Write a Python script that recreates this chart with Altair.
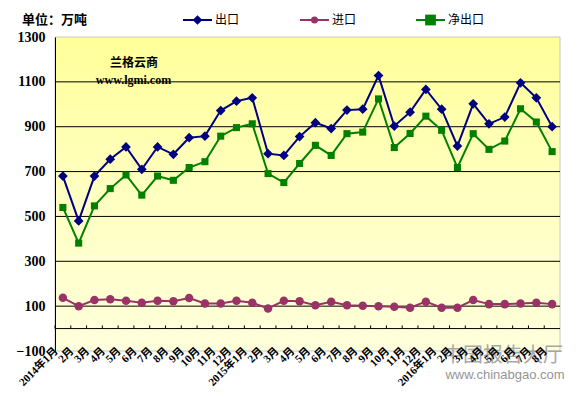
import altair as alt
import pandas as pd

months = (["2014年1月"] + [f"{m}月" for m in range(2, 13)]
          + ["2015年1月"] + [f"{m}月" for m in range(2, 13)]
          + ["2016年1月"] + [f"{m}月" for m in range(2, 9)])
# unique keys for the category axis (labels repeat across years)
keys = [f"{i:02d}" for i in range(len(months))]

series = ["出口", "进口", "净出口"]
colors = ["#000080", "#993366", "#008000"]
shapes = ["diamond", "circle", "square"]
sizes = [95, 50, 115]

export = [680, 480, 680, 755, 810, 710, 810, 777, 851, 858, 972, 1014, 1029, 780, 772, 856,
          918, 892, 974, 978, 1128, 903, 965, 1066, 978, 814, 1002, 913, 943, 1096, 1029, 900]
imports = [137, 100, 127, 131, 124, 115, 124, 122, 136, 112, 112, 124, 115, 90, 124, 122,
           104, 120, 104, 102, 100, 97, 93, 120, 93, 93, 127, 109, 109, 112, 115, 109]
net = [540, 381, 547, 624, 685, 595, 680, 661, 718, 744, 858, 896, 913, 691, 651, 736,
       817, 772, 869, 876, 1024, 807, 870, 947, 884, 718, 869, 799, 836, 980, 921, 789]

y_ticks = [-100, 100, 300, 500, 700, 900, 1100, 1300]
grid_vals = [100, 300, 500, 700, 900, 1100]

rows = []
for s, vals in zip(series, [export, imports, net]):
    for k, m, v in zip(keys, months, vals):
        rows.append({"key": k, "month": m, "series": s, "value": v})
df = pd.DataFrame(rows)
label_map = dict(zip(keys, months))

W, H = 505, 314
FONT = "Liberation Serif, Noto Sans CJK SC"
yscale = alt.Scale(domain=[-100, 1300], nice=False, zero=False)
xscale = alt.Scale(type="point", padding=0.5, domain=keys)
step = W / len(keys)

label_expr = "{" + ",".join(f"'{k}':'{m}'" for k, m in label_map.items()) + "}[datum.value]"

x_axis = alt.Axis(title=None, labelAngle=315, labelAlign="right", labelBaseline="middle",
                  domain=False, ticks=False, labelFont=FONT, labelFontWeight="bold",
                  labelFontSize=11, labelColor="black", labelPadding=-2, labelOffset=-7,
                  labelOverlap=False, labelExpr=label_expr, labelBound=False, zindex=1)
y_axis = alt.Axis(title=None, values=y_ticks, grid=False, domainColor="black", format="d",
                  ticks=False, labelFont=FONT, labelFontWeight="bold", labelFontSize=14,
                  labelColor="black", labelPadding=10, zindex=1)

bg = alt.Chart(pd.DataFrame({"a": [0]})).mark_rect(
    color=alt.LinearGradient(
        gradient="linear",
        stops=[alt.GradientStop(color="#FFFF99", offset=0),
               alt.GradientStop(color="#FFFFBE", offset=0.45),
               alt.GradientStop(color="#FFFFDC", offset=1)],
        x1=0, x2=0, y1=0, y2=1),
    stroke="#C8C8C8", strokeWidth=1
).encode(x=alt.value(0), x2=alt.value(W), y=alt.value(0), y2=alt.value(H))

grid = alt.Chart(pd.DataFrame({"v": grid_vals})).mark_rule(color="black", strokeWidth=1).encode(
    y=alt.Y("v:Q", scale=yscale, axis=y_axis))

zero = alt.Chart(pd.DataFrame({"v": [0]})).mark_rule(color="black", strokeWidth=1).encode(
    y=alt.Y("v:Q", scale=yscale, axis=y_axis))

ticks = alt.Chart(pd.DataFrame({"key": keys})).transform_calculate(z="0", z2="14").mark_rule(
    color="black", strokeWidth=1, xOffset=-step / 2).encode(
    x=alt.X("key:N", scale=xscale, sort=keys, axis=x_axis),
    y=alt.Y("z:Q", scale=yscale, axis=y_axis),
    y2="z2:Q")

lines = alt.Chart(df).mark_line(strokeWidth=2).encode(
    x=alt.X("key:N", scale=xscale, sort=keys, axis=x_axis),
    y=alt.Y("value:Q", scale=yscale, axis=y_axis),
    color=alt.Color("series:N", scale=alt.Scale(domain=series, range=colors), legend=None),
    detail="series:N",
)

points = alt.Chart(df).mark_point(filled=True, opacity=1).encode(
    x=alt.X("key:N", scale=xscale, sort=keys, axis=x_axis),
    y=alt.Y("value:Q", scale=yscale, axis=y_axis),
    color=alt.Color("series:N", scale=alt.Scale(domain=series, range=colors), legend=None),
    shape=alt.Shape("series:N", scale=alt.Scale(domain=series, range=shapes), legend=None),
    size=alt.Size("series:N", scale=alt.Scale(domain=series, range=sizes), legend=None),
)

# legend (manual, Excel style)
leg_x = [128, 245, 361]
leg_y = -17
legend_layers = []
for i, s in enumerate(series):
    x0 = leg_x[i]
    legend_layers.append(alt.Chart(pd.DataFrame({"a": [0]})).mark_rule(
        color=colors[i], strokeWidth=2).encode(
        x=alt.value(x0), x2=alt.value(x0 + 29), y=alt.value(leg_y)))
    legend_layers.append(alt.Chart(pd.DataFrame({"a": [0]})).mark_point(
        filled=True, opacity=1, color=colors[i], shape=shapes[i], size=sizes[i]).encode(
        x=alt.value(x0 + 14.5), y=alt.value(leg_y)))
    legend_layers.append(alt.Chart(pd.DataFrame({"a": [0]})).mark_text(
        text=s, align="left", baseline="middle", font="Noto Sans CJK SC", fontSize=12,
        color="black").encode(x=alt.value(x0 + 32), y=alt.value(leg_y)))

def txt(t, x, y, **kw):
    return alt.Chart(pd.DataFrame({"a": [0]})).mark_text(text=t, baseline="middle", **kw).encode(
        x=alt.value(x), y=alt.value(y))

unit = txt("单位：万吨", -33, -17, align="left", font=FONT, fontSize=13, fontWeight="bold", color="black")
brand1 = txt("兰格云商", 79, 26, align="center", font=FONT, fontSize=12, fontWeight="bold", color="black")
brand2 = txt("www.lgmi.com", 78.5, 43, align="center", font=FONT, fontSize=12, fontWeight="bold", color="black")
wm1 = txt("中国报告大厅", 448, 318.5, align="center", font="Noto Sans CJK SC", fontSize=20, color="#9A9A9A", opacity=0.85)
wm2 = txt("www.chinabgao.com", 450, 338, align="center", font="Liberation Sans", fontSize=13, color="#8A8A8A", opacity=0.9)

chart = alt.layer(
    bg, grid, zero, ticks, lines, points, *legend_layers, unit, brand1, brand2, wm1, wm2
).properties(
    width=W, height=H,
    padding={"left": 47, "top": 29, "right": 20, "bottom": 38},
    autosize=alt.AutoSizeParams(type="none"),
    background="white",
).configure_view(stroke=None)

chart.save("out.html", embed_options={"renderer": "svg", "actions": False})
